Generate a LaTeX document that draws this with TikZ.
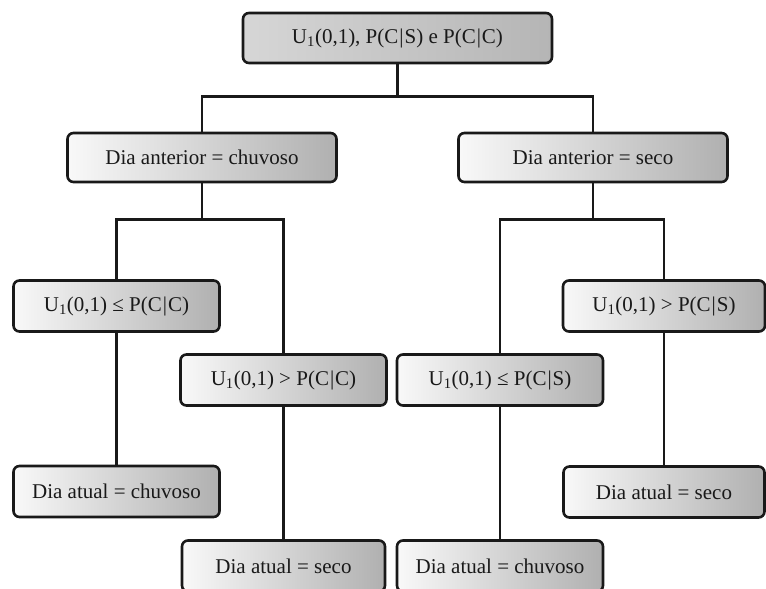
\documentclass[tikz,border=0pt]{standalone}
\usepackage{fontspec}
\setmainfont{Liberation Serif}
\usetikzlibrary{positioning}

\newcommand{\given}{\kern1pt|\kern1pt}

\begin{document}
\begin{tikzpicture}[
  x=1pt, y=-1pt,
  box/.style={draw=black!90, line width=2.6pt, rounded corners=6pt, left color=gray!5, right color=gray!62, text=black!90, font=\fontsize{21}{25}\selectfont, align=center, inner sep=0pt, minimum width=206pt, minimum height=51pt},
  topbox/.style={box, left color=gray!32, right color=gray!58, minimum width=309pt, minimum height=50pt},
  midbox/.style={box, minimum width=269pt, minimum height=49pt},
  link/.style={draw=black!90, line width=2.4pt}
]
\useasboundingbox (0,0) rectangle (766,589);

\node[topbox] (start) at (397.5,38) {U\textsubscript{1}(0,1), P(C\given S) e P(C\given C)};
\node[midbox] (antchuv) at (202,157.5) {Dia anterior = chuvoso};
\node[midbox] (antseco) at (593,157.5) {Dia anterior = seco};

\node[box] (lecc) at (116.5,306) {U\textsubscript{1}(0,1) ≤ P(C\given C)};
\node[box] (gtcc) at (283.5,380) {U\textsubscript{1}(0,1) > P(C\given C)};
\node[box] (lecs) at (500,380) {U\textsubscript{1}(0,1) ≤ P(C\given S)};
\node[box, minimum width=202pt] (gtcs) at (664,306) {U\textsubscript{1}(0,1) > P(C\given S)};

\node[box] (atuchuv) at (116.5,491.5) {Dia atual = chuvoso};
\node[box, minimum width=203pt] (atuseco) at (283.5,566) {Dia atual = seco};
\node[box] (atuchuv2) at (500,566) {Dia atual = chuvoso};
\node[box, minimum width=201pt] (atuseco2) at (664,492) {Dia atual = seco};

\draw[link] (start.south) -- ++(0,32) -| (antchuv.north);
\draw[link] (start.south) -- ++(0,32) -| (antseco.north);

\draw[link] (antchuv.south) -- ++(0,36) -| (lecc.north);
\draw[link] (antchuv.south) -- ++(0,36) -| (gtcc.north);
\draw[link] (antseco.south) -- ++(0,36) -| (lecs.north);
\draw[link] (antseco.south) -- ++(0,36) -| (gtcs.north);

\draw[link] (lecc) -- (atuchuv);
\draw[link] (gtcc) -- (atuseco);
\draw[link] (lecs) -- (atuchuv2);
\draw[link] (gtcs) -- (atuseco2);
\end{tikzpicture}
\end{document}
